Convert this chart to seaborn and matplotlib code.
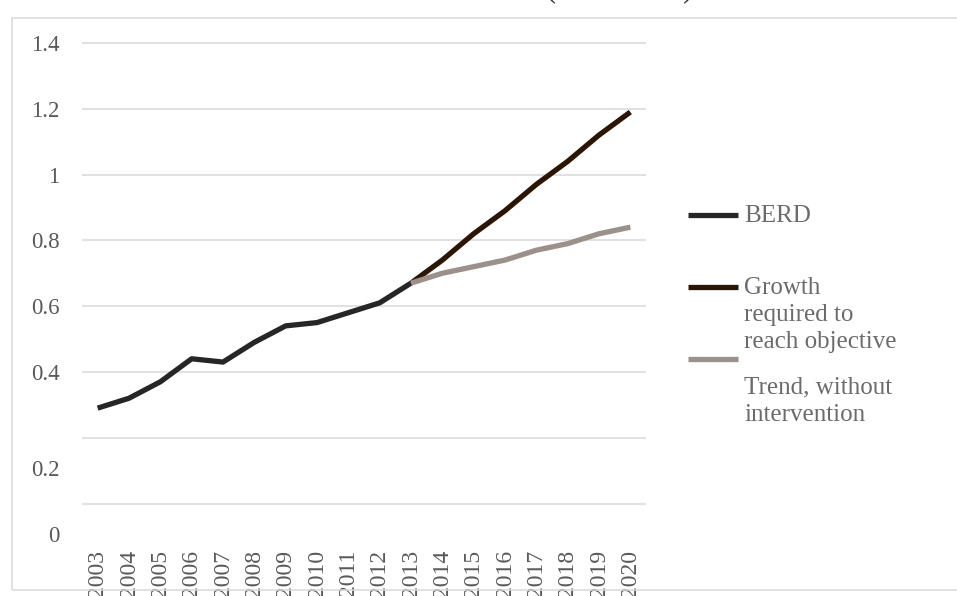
import matplotlib
matplotlib.use("Agg")
import matplotlib.pyplot as plt
import matplotlib.transforms as mtransforms
from matplotlib.lines import Line2D
from matplotlib.patches import Rectangle
import pandas as pd
import seaborn as sns

# Business enterprise R&D expenditure, % of GDP
years_berd = [2003, 2004, 2005, 2006, 2007, 2008, 2009, 2010, 2011, 2012, 2013]
berd = [0.29, 0.32, 0.37, 0.44, 0.43, 0.49, 0.54, 0.55, 0.58, 0.61, 0.67]

years_proj = [2013, 2014, 2015, 2016, 2017, 2018, 2019, 2020]
growth_required = [0.67, 0.74, 0.82, 0.89, 0.97, 1.04, 1.12, 1.19]
trend_no_intervention = [0.67, 0.70, 0.72, 0.74, 0.77, 0.79, 0.82, 0.84]

all_years = list(range(2003, 2021))
y_ticks = [0, 0.2, 0.4, 0.6, 0.8, 1.0, 1.2, 1.4]
y_tick_labels = ["0", "0.2", "0.4", "0.6", "0.8", "1", "1.2", "1.4"]

series_names = ["BERD", "Growth\nrequired to\nreach objective", "Trend, without\nintervention"]
series_colors = ["#262626", "#2d1503", "#9b908a"]

df = pd.concat([
    pd.DataFrame({"year": years_berd, "value": berd, "series": "berd"}),
    pd.DataFrame({"year": years_proj, "value": growth_required, "series": "growth"}),
    pd.DataFrame({"year": years_proj, "value": trend_no_intervention, "series": "trend"}),
])

sns.set_theme(style="white")
plt.rcParams["font.family"] = ["Liberation Serif", "DejaVu Serif"]

W, H = 957, 596
fig = plt.figure(figsize=(W / 100, H / 100), dpi=100)

# outer chart border
fig.patches.append(Rectangle((12 / W, 1 - 590 / H), (W + 5 - 12) / W, (590 - 18) / H,
                             transform=fig.transFigure, fill=False,
                             edgecolor="#d9d9d9", linewidth=1.1))

# title (sits just above the top edge of the canvas)
fig.text(693 / W, 1 + 3.5 / H, "Business R&D (% of GDP)", ha="right", va="baseline",
         fontsize=22, color="#333333")

ax_top_px, ax_bot_px = 29.8, 543.0
ax = fig.add_axes([82 / W, 1 - ax_bot_px / H, 564 / W, (ax_bot_px - ax_top_px) / H])

for key, color in zip(["berd", "growth", "trend"], series_colors):
    sns.lineplot(data=df[df["series"] == key], x="year", y="value", ax=ax,
                 color=color, linewidth=3.8, legend=False, solid_capstyle="butt")

ax.set_xlim(2002.5, 2020.5)
ax.set_ylim(-0.12, 1.44)
ax.set_xlabel("")
ax.set_ylabel("")

ax.set_yticks(y_ticks)
ax.set_yticklabels(y_tick_labels)
ax.set_xticks(all_years)
ax.set_xticklabels([str(y) for y in all_years], rotation=90)

ax.grid(axis="y", color="#d9d9d9", linewidth=1.1)
ax.grid(axis="x", visible=False)
for s in ax.spines.values():
    s.set_visible(False)

ax.tick_params(axis="y", length=0, pad=16, labelsize=16.5, labelcolor="#595959")
ax.tick_params(axis="x", length=0, pad=5, labelsize=17, labelcolor="#595959")

# the two lowest value labels sit lower than their gridlines
shift = mtransforms.ScaledTranslation(0, -30 / 100, fig.dpi_scale_trans)
for lab in ax.get_yticklabels()[:2]:
    lab.set_transform(lab.get_transform() + shift)

# legend on the right
handle_y = [215, 287, 359]
text_y = [216, 315, 401]
for name, color, hy, ty in zip(series_names, series_colors, handle_y, text_y):
    fig.add_artist(Line2D([688 / W, 738 / W], [1 - hy / H, 1 - hy / H],
                          transform=fig.transFigure, color=color, linewidth=3.8,
                          solid_capstyle="butt"))
    fig.text(744 / W, 1 - ty / H, name, ha="left", va="center",
             fontsize=18, color="#6b6b6b", linespacing=1.3)

fig.savefig("out.png", dpi=100)
